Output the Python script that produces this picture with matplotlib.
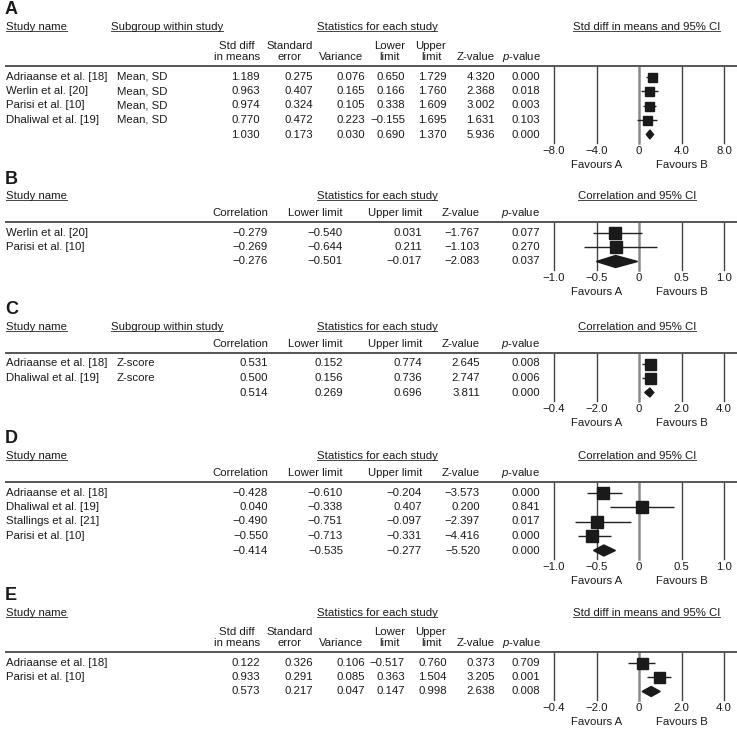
import matplotlib
matplotlib.use("Agg")
import matplotlib.pyplot as plt
from matplotlib.patches import Polygon
from matplotlib.lines import Line2D

W, H = 737, 731
plt.rcParams['font.family'] = ['Liberation Sans', 'DejaVu Sans']
plt.rcParams['mathtext.fontset'] = 'custom'
plt.rcParams['mathtext.it'] = 'Liberation Sans:italic'
plt.rcParams['mathtext.rm'] = 'Liberation Sans'

FS = 8.2
TXT = '#1a1a1a'
STEP = 14.5

# Panel A - std diff in means (last value = summary row)
a_studies = ["Adriaanse et al. [18]", "Werlin et al. [20]", "Parisi et al. [10]", "Dhaliwal et al. [19]"]
a_subgroups = ["Mean, SD", "Mean, SD", "Mean, SD", "Mean, SD"]
a_smd = [1.189, 0.963, 0.974, 0.770, 1.030]
a_se = [0.275, 0.407, 0.324, 0.472, 0.173]
a_var = [0.076, 0.165, 0.105, 0.223, 0.030]
a_lower = [0.650, 0.166, 0.338, -0.155, 0.690]
a_upper = [1.729, 1.760, 1.609, 1.695, 1.370]
a_z = [4.320, 2.368, 3.002, 1.631, 5.936]
a_p = [0.000, 0.018, 0.003, 0.103, 0.000]
a_ticks = [-8, -4, 0, 4, 8]
a_tick_labels = ["\u22128.0", "\u22124.0", "0", "4.0", "8.0"]

# Panel B - correlation
b_studies = ["Werlin et al. [20]", "Parisi et al. [10]"]
b_r = [-0.279, -0.269, -0.276]
b_lower = [-0.540, -0.644, -0.501]
b_upper = [0.031, 0.211, -0.017]
b_z = [-1.767, -1.103, -2.083]
b_p = [0.077, 0.270, 0.037]
bd_ticks = [-1.0, -0.5, 0, 0.5, 1.0]
bd_tick_labels = ["\u22121.0", "\u22120.5", "0", "0.5", "1.0"]

# Panel C - correlation with subgroup
c_studies = ["Adriaanse et al. [18]", "Dhaliwal et al. [19]"]
c_subgroups = ["Z-score", "Z-score"]
c_r = [0.531, 0.500, 0.514]
c_lower = [0.152, 0.156, 0.269]
c_upper = [0.774, 0.736, 0.696]
c_z = [2.645, 2.747, 3.811]
c_p = [0.008, 0.006, 0.000]
ce_ticks = [-4, -2, 0, 2, 4]
ce_tick_labels = ["\u22120.4", "\u22122.0", "0", "2.0", "4.0"]

# Panel D - correlation
d_studies = ["Adriaanse et al. [18]", "Dhaliwal et al. [19]", "Stallings et al. [21]", "Parisi et al. [10]"]
d_r = [-0.428, 0.040, -0.490, -0.550, -0.414]
d_lower = [-0.610, -0.338, -0.751, -0.713, -0.535]
d_upper = [-0.204, 0.407, -0.097, -0.331, -0.277]
d_z = [-3.573, 0.200, -2.397, -4.416, -5.520]
d_p = [0.000, 0.841, 0.017, 0.000, 0.000]

# Panel E - std diff in means
e_studies = ["Adriaanse et al. [18]", "Parisi et al. [10]"]
e_smd = [0.122, 0.933, 0.573]
e_se = [0.326, 0.291, 0.217]
e_var = [0.106, 0.085, 0.047]
e_lower = [-0.517, 0.363, 0.147]
e_upper = [0.760, 1.504, 0.998]
e_z = [0.373, 3.205, 2.638]
e_p = [0.709, 0.001, 0.008]

# column layout (pixels)
SMD_HEADERS = [("Std diff", "in means"), ("Standard", "error"), ("", "Variance"),
               ("Lower", "limit"), ("Upper", "limit"), ("", "Z-value"), ("", "$p$-value")]
SMD_RIGHT = [260, 313, 365, 405, 447, 495, 540]
SMD_CENTER = [237, 290, 341, 390, 431, 476, 522]
COR_HEADERS = ["Correlation", "Lower limit", "Upper limit", "Z-value", "$p$-value"]
COR_RIGHT = [268, 343, 422, 480, 540]

PLOT_LEFT, PLOT_RIGHT = 554, 724

underlined = []


def fx(px):
    return px / W


def fy(py):
    return 1 - py / H


def fmt(v):
    return f"{v:.3f}".replace('-', '\u2212')


def put(fig, x, y, s, ha='left', **kw):
    return fig.text(fx(x), fy(y), s, ha=ha, va='center', fontsize=FS, color=TXT, **kw)


def draw_panel(fig, letter, title_y, kind, studies, subgroups, columns,
               est, lo, hi, ticks, tick_labels, box_px, dia_px):
    smd = kind == 'smd'
    fig.text(fx(5), fy(title_y - 17), letter, ha='left', va='center',
             fontsize=13, fontweight='bold', color=TXT)

    # header titles
    underlined.append(put(fig, 6, title_y, "Study name"))
    if subgroups:
        underlined.append(put(fig, 111, title_y, "Subgroup within study"))
    underlined.append(put(fig, 377, title_y, "Statistics for each study", ha='center'))
    if smd:
        underlined.append(put(fig, 573, title_y, "Std diff in means and 95% CI"))
    else:
        underlined.append(put(fig, 578, title_y, "Correlation and 95% CI"))

    # column headers
    if smd:
        for (top, bot), cx in zip(SMD_HEADERS, SMD_CENTER):
            if top:
                put(fig, cx, title_y + 19, top, ha='center')
            put(fig, cx, title_y + 30, bot, ha='center')
        line_y = title_y + 39
        rights = SMD_RIGHT
    else:
        for head, rx in zip(COR_HEADERS, COR_RIGHT):
            put(fig, rx, title_y + 17, head, ha='right')
        line_y = title_y + 26
        rights = COR_RIGHT

    fig.add_artist(Line2D([fx(6), fx(737)], [fy(line_y), fy(line_y)],
                          transform=fig.transFigure, color='#555555', lw=1.4))

    r0 = line_y + 10.5
    nrows = len(studies) + 1
    for k in range(nrows):
        ry = r0 + k * STEP
        if k < len(studies):
            put(fig, 6, ry, studies[k])
            if subgroups:
                put(fig, 117, ry, subgroups[k])
        for col, rx in zip(columns, rights):
            put(fig, rx, ry, fmt(col[k]), ha='right')

    # forest plot axes, rows in data units
    bottom_px = r0 + (nrows - 1) * STEP + 8.5
    ax = fig.add_axes([fx(PLOT_LEFT), fy(bottom_px), (PLOT_RIGHT - PLOT_LEFT) / W,
                       (bottom_px - line_y) / H])
    ax.set_xlim(ticks[0], ticks[-1])
    ax.set_ylim((bottom_px - r0) / STEP, (line_y - r0) / STEP)
    for s in ax.spines.values():
        s.set_visible(False)
    ax.patch.set_alpha(0)
    for t in ticks:
        if t == 0:
            ax.axvline(t, color='#8a8a8a', lw=1.8, clip_on=False, zorder=1)
        else:
            ax.axvline(t, color='#444444', lw=1.0, clip_on=False, zorder=1)

    n = len(studies)
    rows = list(range(n))
    ax.hlines(rows, lo[:n], hi[:n], color='#222222', lw=1.0, zorder=2)
    ax.plot(est[:n], rows, 's', ms=box_px * 0.72, color=TXT, zorder=3)
    h = dia_px / 2 / STEP
    ax.add_patch(Polygon([(lo[n], n), (est[n], n - h), (hi[n], n), (est[n], n + h)],
                         closed=True, color=TXT, zorder=3))

    ax.set_xticks(ticks, tick_labels)
    ax.set_yticks([])
    ax.tick_params(length=0, pad=2.5, labelsize=FS, labelcolor=TXT)
    for x, label in [(ticks[1], "Favours A"), (ticks[3], "Favours B")]:
        ax.annotate(label, xy=(x, 0), xycoords=('data', 'axes fraction'),
                    xytext=(0, -22 * 0.72), textcoords='offset points',
                    ha='center', va='center', fontsize=FS, color=TXT)


def add_underlines(fig):
    fig.canvas.draw()
    renderer = fig.canvas.get_renderer()
    inv = fig.transFigure.inverted()
    for t in underlined:
        bb = t.get_window_extent(renderer)
        (x0, y0), (x1, _) = inv.transform([(bb.x0, bb.y0 + 1.5), (bb.x1, bb.y1)])
        fig.add_artist(Line2D([x0, x1], [y0, y0], transform=fig.transFigure,
                              color='#444444', lw=0.7))


def main():
    fig = plt.figure(figsize=(W / 100, H / 100), dpi=100)

    draw_panel(fig, "A", 27, 'smd', a_studies, a_subgroups,
               [a_smd, a_se, a_var, a_lower, a_upper, a_z, a_p],
               a_smd, a_lower, a_upper, a_ticks, a_tick_labels, 9, 9)
    draw_panel(fig, "B", 196, 'cor', b_studies, None,
               [b_r, b_lower, b_upper, b_z, b_p],
               b_r, b_lower, b_upper, bd_ticks, bd_tick_labels, 12, 12)
    draw_panel(fig, "C", 327, 'cor', c_studies, c_subgroups,
               [c_r, c_lower, c_upper, c_z, c_p],
               c_r, c_lower, c_upper, ce_ticks, ce_tick_labels, 11, 9)
    draw_panel(fig, "D", 456, 'cor', d_studies, None,
               [d_r, d_lower, d_upper, d_z, d_p],
               d_r, d_lower, d_upper, bd_ticks, bd_tick_labels, 12, 11)
    draw_panel(fig, "E", 613, 'smd', e_studies, None,
               [e_smd, e_se, e_var, e_lower, e_upper, e_z, e_p],
               e_smd, e_lower, e_upper, ce_ticks, ce_tick_labels, 11, 10)

    add_underlines(fig)
    fig.savefig('out.png', dpi=100)


if __name__ == "__main__":
    main()
